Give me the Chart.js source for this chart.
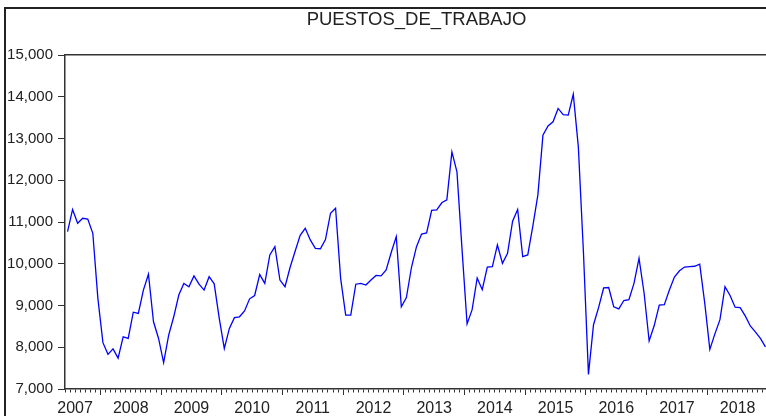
<!DOCTYPE html>
<html><head><meta charset="utf-8">
<script src="https://cdn.jsdelivr.net/npm/chart.js@4/dist/chart.umd.min.js"></script>
<style>
html,body{margin:0;padding:0;background:#fff;overflow:hidden;width:766px;height:416px;}
#frame{position:absolute;left:4px;top:7px;width:800px;height:440px;border-left:2px solid #222;border-top:2px solid #222;box-sizing:border-box;}
#c{position:absolute;left:0;top:0;}
</style></head><body>
<div id="frame"></div>
<canvas id="c" width="772" height="416"></canvas>
<script>
// ---- data (monthly, 2007M06 .. 2018M12) ----
const startYear = 2007;
const startMonth = 6;
const yearLabels = ['2007','2008','2009','2010','2011','2012','2013','2014','2015','2016','2017','2018'];
const yTickValues = [7000, 8000, 9000, 10000, 11000, 12000, 13000, 14000, 15000];
const puestos = [
  10770, 11300, 10970, 11090, 11070, 10730, 9170, 8110, 7830, 7960, 7740, 8250,
  8210, 8840, 8810, 9370, 9750, 8610, 8210, 7630, 8290, 8730, 9250, 9530,
  9450, 9710, 9510, 9370, 9690, 9520, 8690, 7970, 8450, 8710, 8730, 8870,
  9160, 9240, 9740, 9530, 10210, 10410, 9610, 9450, 9910, 10300, 10680, 10850,
  10570, 10370, 10360, 10580, 11210, 11330, 9650, 8770, 8770, 9510, 9530, 9490,
  9610, 9720, 9710, 9850, 10270, 10650, 8970, 9190, 9910, 10410, 10710, 10740,
  11280, 11290, 11460, 11530, 12680, 12200, 10350, 8560, 8900, 9660, 9380, 9920,
  9930, 10450, 10010, 10250, 11020, 11300, 10170, 10210, 10900, 11650, 13080, 13300,
  13400, 13720, 13570, 13560, 14060, 12800, 10300, 7350, 8540, 8950, 9420, 9430,
  8970, 8920, 9120, 9140, 9530, 10130, 9300, 8150, 8520, 9010, 9020, 9370,
  9680, 9830, 9920, 9930, 9940, 9990, 9050, 7950, 8320, 8660, 9450, 9240,
  8960, 8950, 8750, 8510, 8370, 8210, 8010
];

// month categories
const months = puestos.map((_, i) => {
  const m = startMonth - 1 + i;
  return (startYear + Math.floor(m / 12)) + 'M' + String(m % 12 + 1).padStart(2, '0');
});

// month boundaries (tick marks) and year boundaries (major ticks)
const nMonths = months.length;
const boundaries = [];
for (let b = 0; b <= nMonths; b++) boundaries.push(b);
const firstJan = (12 - (startMonth - 1)) % 12; // index of first January
const isMajor = v => v >= firstJan && (v - firstJan) % 12 === 0;
// year label positions: middle of each year's span (first year nudged inside the axis)
const labelAt = {};
yearLabels.forEach((y, k) => {
  let pos = firstJan + (k - 1) * 12 + 6;
  if (k === 0) pos = 2;
  labelAt[pos] = y;
});

const fmt = v => String(v).replace(/\B(?=(\d{3})+(?!\d))/g, ',');
const FONT = '"Liberation Sans", Arial, sans-serif';
Chart.defaults.font.family = FONT;

new Chart(document.getElementById('c'), {
  type: 'line',
  data: {
    datasets: [{
      label: 'PUESTOS_DE_TRABAJO',
      data: puestos.map((v, i) => ({ x: i + 0.5, y: v, m: months[i] })),
      borderColor: '#0000ff',
      borderWidth: 1.3,
      pointRadius: 0,
      tension: 0,
      fill: false
    }]
  },
  options: {
    responsive: false,
    animation: false,
    devicePixelRatio: 1,
    layout: { padding: { left: 0, right: 3.6, top: 0, bottom: 0 } },
    plugins: {
      legend: { display: false },
      tooltip: { enabled: false },
      title: {
        display: true,
        text: 'PUESTOS_DE_TRABAJO',
        fullSize: false,
        color: '#222',
        font: { family: FONT, size: 18.5, weight: 'normal', lineHeight: 1.2 },
        padding: { top: 9, bottom: 23.8 }
      }
    },
    scales: {
      x: {
        type: 'linear',
        position: 'bottom',
        min: 0,
        max: nMonths,
        afterBuildTicks: s => { s.ticks = boundaries.map(v => ({ value: v })); },
        afterFit: s => { s.height = 27; },
        grid: {
          display: true,
          drawOnChartArea: false,
          drawTicks: true,
          tickLength: 6,
          tickColor: '#333',
          tickWidth: 1,
          tickBorderDash: ctx => (ctx.tick && isMajor(ctx.tick.value)) ? [] : [3, 30]
        },
        border: { display: true, color: '#333', width: 1.5 },
        ticks: {
          autoSkip: false,
          maxRotation: 0,
          minRotation: 0,
          padding: 4,
          color: '#222',
          font: { family: FONT, size: 16 },
          callback: v => labelAt[v] || ''
        }
      },
      xTop: {
        type: 'linear',
        position: 'top',
        min: 0,
        max: 1,
        display: true,
        grid: { display: false, drawTicks: false },
        ticks: { display: false },
        border: { display: true, color: '#333', width: 1.5 }
      },
      y: {
        type: 'linear',
        position: 'left',
        min: 7000,
        max: 15000,
        afterBuildTicks: s => { s.ticks = yTickValues.map(v => ({ value: v })); },
        afterFit: s => { s.width = 65; },
        grid: { display: true, drawOnChartArea: false, drawTicks: true, tickLength: 7, tickColor: '#333' },
        border: { display: true, color: '#333', width: 1.5 },
        ticks: { padding: 5, color: '#222', font: { family: FONT, size: 15 }, callback: v => fmt(v) }
      }
    }
  }
});
</script>
</body></html>
